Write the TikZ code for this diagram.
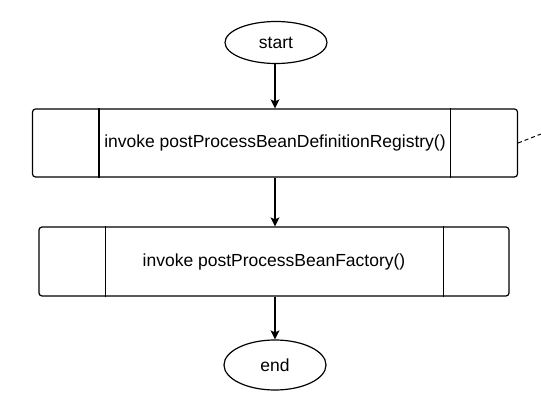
\documentclass[tikz,border=0pt]{standalone}
\usepackage{fontspec}
\setmainfont{Liberation Sans}
\usetikzlibrary{arrows.meta,shapes.geometric}

\begin{document}
\begin{tikzpicture}[x=1pt, y=-1pt,
    terminal/.style={draw, ellipse, line width=1.2pt, minimum width=102pt, minimum height=42pt, inner sep=0pt, font=\fontsize{17.5}{21}\selectfont},
    subproc/.style={draw, rounded corners=3pt, line width=1.2pt, minimum height=68pt, inner sep=0pt, font=\fontsize{17.5}{21}\selectfont},
    arrow/.style={-{Stealth[length=9pt,width=9pt,inset=2pt]}, line width=1.2pt}
  ]
    \useasboundingbox (0,0) rectangle (541,411);

    \node[terminal] (start) at (276,42.5) {start};
    \node[subproc, minimum width=485pt] (defreg) at (275,143) {invoke postProcessBeanDefinitionRegistry()};
    \node[subproc, minimum width=470pt, minimum height=69pt] (factory) at (274,261.5) {invoke postProcessBeanFactory()};
    \node[terminal, minimum height=50pt] (end) at (275,365) {end};
    \coordinate (note) at (541,134);

    % inner bars of the subprocess boxes
    \draw[line width=1.2pt] ([xshift=67pt]defreg.north west) -- ([xshift=67pt]defreg.south west);
    \draw[line width=1.2pt] ([xshift=-68pt]defreg.north east) -- ([xshift=-68pt]defreg.south east);
    \draw[line width=1.2pt] ([xshift=67pt]factory.north west) -- ([xshift=67pt]factory.south west);
    \draw[line width=1.2pt] ([xshift=-66pt]factory.north east) -- ([xshift=-66pt]factory.south east);

    \draw[arrow] (defreg.north |- start.south) -- (defreg.north);
    \draw[arrow] (defreg.south) -- (defreg.south |- factory.north);
    \draw[arrow] (end.north |- factory.south) -- (end.north);
    \draw[line width=1pt, dash pattern=on 4pt off 3pt] (defreg.east) -- (note);
  \end{tikzpicture}
\end{document}
